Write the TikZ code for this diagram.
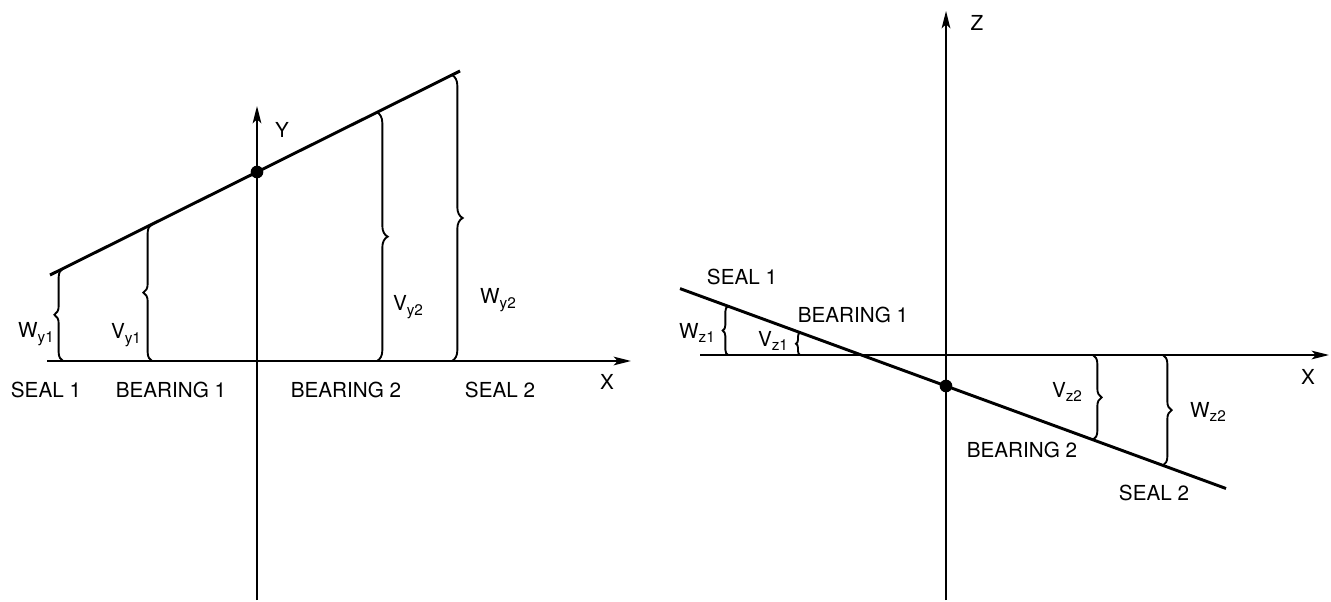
\documentclass[tikz,border=0pt]{standalone}
\usepackage{fontspec}
\setmainfont{TeX Gyre Heros}
\usetikzlibrary{arrows.meta,decorations.pathreplacing}
\newcommand\sbs[1]{\raisebox{-0.4ex}{\fontsize{11.5}{12}\selectfont #1}}

\begin{document}
\begin{tikzpicture}[x=0.75pt, y=-0.75pt,
  axis/.style={line width=1.5pt, -{Stealth[length=13pt, width=6.5pt, inset=3pt]}},
  shaft/.style={line width=2.2pt},
  brc/.style={line width=1.4pt, decorate, decoration={brace, amplitude=6.5pt}},
  lab/.style={font=\fontsize{15.5}{18}\selectfont, inner sep=1pt},
  dot/.style={circle, fill, inner sep=0pt, minimum size=9.5pt}]
  \useasboundingbox (0,0) rectangle (1331,602);
  % left: X-Y plane
  \coordinate (lx0) at (47,361);
  \coordinate (lx1) at (631,361);
  \coordinate (ly0) at (257,600);
  \coordinate (ly1) at (257,106);
  \coordinate (ls0) at (50,275);
  \coordinate (ls1) at (460,71);
  \coordinate (wy1t) at (63,268.5);  \coordinate (wy1b) at (63,361);
  \coordinate (vy1t) at (152,224.2); \coordinate (vy1b) at (152,361);
  \coordinate (vy2t) at (377,112.3); \coordinate (vy2b) at (377,361);
  \coordinate (wy2t) at (452,75);    \coordinate (wy2b) at (452,361);
  \draw[axis] (lx0) -- (lx1);
  \draw[axis] (ly0) -- (ly1);
  \draw[shaft] (ls0) -- (ls1);
  \node[dot] (lc) at (257,172) {};
  \draw[brc] (wy1b) -- (wy1t);
  \draw[brc] (vy1b) -- (vy1t);
  \draw[brc, decoration={amplitude=8pt}] (vy2t) -- (vy2b);
  \draw[brc, decoration={amplitude=8pt}] (wy2t) -- (wy2b);
  \node[lab] (ylab) at (282,130) {Y};
  \node[lab] (xlab) at (607,382) {X};
  \node[lab] (wy1) at (36,334) {W\sbs{y1}};
  \node[lab] (vy1) at (126,335) {V\sbs{y1}};
  \node[lab] (vy2) at (408,307) {V\sbs{y2}};
  \node[lab] (wy2) at (498,300) {W\sbs{y2}};
  \node[lab] (seal1) at (46,390) {SEAL 1};
  \node[lab] (bear1) at (171,390) {BEARING 1};
  \node[lab] (bear2) at (346,390) {BEARING 2};
  \node[lab] (seal2) at (500,390) {SEAL 2};
  % right: X-Z plane
  \coordinate (rx0) at (700,355);
  \coordinate (rx1) at (1329,355);
  \coordinate (rz0) at (946,600);
  \coordinate (rz1) at (946,11);
  \coordinate (rs0) at (680,288.6);
  \coordinate (rs1) at (1226,488.5);
  \coordinate (wz1t) at (728,306.2);  \coordinate (wz1b) at (728,355);
  \coordinate (vz1t) at (800,332.5);  \coordinate (vz1b) at (800,355);
  \coordinate (vz2t) at (1093,355);   \coordinate (vz2b) at (1093,439.8);
  \coordinate (wz2t) at (1163,355);   \coordinate (wz2b) at (1163,465.4);
  \draw[axis] (rx0) -- (rx1);
  \draw[axis] (rz0) -- (rz1);
  \draw[shaft] (rs0) -- (rs1);
  \node[dot] (rc) at (946,386) {};
  \draw[brc, decoration={amplitude=4pt}] (wz1b) -- (wz1t);
  \draw[brc, decoration={amplitude=3pt}] (vz1b) -- (vz1t);
  \draw[brc] (vz2t) -- (vz2b);
  \draw[brc] (wz2t) -- (wz2b);
  \node[lab] (zlab) at (977,23) {Z};
  \node[lab] (xlab2) at (1308,377) {X};
  \node[lab] (wz1) at (697,333) {W\sbs{z1}};
  \node[lab] (vz1) at (773,341) {V\sbs{z1}};
  \node[lab] (vz2) at (1067,392) {V\sbs{z2}};
  \node[lab] (wz2) at (1208,412) {W\sbs{z2}};
  \node[lab] (seal1r) at (742,277) {SEAL 1};
  \node[lab] (bear1r) at (853,315) {BEARING 1};
  \node[lab] (bear2r) at (1022,450) {BEARING 2};
  \node[lab] (seal2r) at (1154,493) {SEAL 2};
\end{tikzpicture}
\end{document}
